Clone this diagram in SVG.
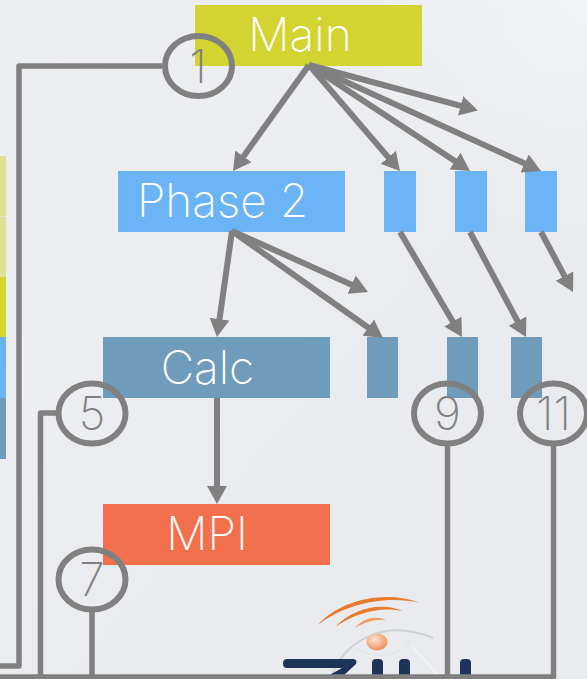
<svg xmlns="http://www.w3.org/2000/svg" width="587" height="679" viewBox="0 0 587 679">
<style>
.lbl{font-family:Inter,Roboto,"Liberation Sans",sans-serif;font-weight:200;font-size:46px;fill:#fff;text-anchor:middle}
.num{font-family:Inter,Roboto,"Liberation Sans",sans-serif;font-weight:200;font-size:46px;fill:#808080;text-anchor:middle}
.circ{fill:none;stroke:#808080;stroke-width:6}
.conn{fill:none;stroke:#808080;stroke-width:5.500;stroke-linejoin:round}
.arr{fill:none;stroke:#808080;stroke-width:6;marker-end:url(#head)}
.y{fill:#d3d431}.b{fill:#6bb4f5}.s{fill:#6f9cba}.o{fill:#f2704d}
.navy{fill:#1f3358}
</style>
<defs>
<linearGradient id="bg" x1="0" y1="0" x2="1" y2="1">
<stop offset="0" stop-color="#ebedf0"/><stop offset="0.3" stop-color="#edeef1"/><stop offset="0.6" stop-color="#e9ebee"/><stop offset="1" stop-color="#e9ebee"/>
</linearGradient>
<radialGradient id="tr" cx="1" cy="0" r="1">
<stop offset="0" stop-color="#f4f5f6" stop-opacity="0.8"/><stop offset="1" stop-color="#f4f5f6" stop-opacity="0"/>
</radialGradient>
<radialGradient id="ball" cx="0.4" cy="0.35" r="0.7">
<stop offset="0" stop-color="#fbe3d3"/><stop offset="1" stop-color="#ee8a50"/>
</radialGradient>
<marker id="head" markerUnits="userSpaceOnUse" markerWidth="20" markerHeight="21" refX="8" refY="10.500" orient="auto">
<path d="M0 0.500L18 10.500L0 20.500Z" fill="#808080"/>
</marker>
</defs>
<rect width="587" height="679" fill="url(#bg)"/>
<rect x="347" y="0" width="240" height="240" fill="url(#tr)"/>
<g id="logo">
<path d="M318 625C338 601 385 589 420 603C385 595 345 604 318 625Z" fill="#ea7a2c"/>
<path d="M335 627C352 609 380 601 403 611C380 606 355 613 335 627Z" fill="#ea7a2c"/>
<path d="M355 628C362 619 375 615 386 620C375 619 365 622 355 628Z" fill="#ee9a60"/>
<path d="M331 677C345 640 385 618 433 638" fill="none" stroke="#cfd1d1" stroke-width="2"/>
<path d="M350 640C355 655 395 665 410 640" fill="none" stroke="#e0e2e3" stroke-width="1"/>
<path d="M412 646L437 674" fill="none" stroke="#f2f3f5" stroke-width="2.500"/>
<ellipse cx="377" cy="642" rx="10.500" ry="8.500" fill="url(#ball)"/>
<path class="navy" d="M287 659H352Q358 659 356 664L342 677H326L342 668H287Q283 668 283 663.500Q283 659 287 659Z"/>
<rect class="navy" x="372" y="659" width="11" height="20" rx="4"/>
<rect class="navy" x="399" y="659" width="11" height="20" rx="4"/>
<rect class="navy" x="460" y="659" width="11" height="20" rx="4"/>
</g>
<g id="strip">
<rect x="0" y="156" width="6" height="60.500" fill="#dfe094"/>
<rect x="0" y="217" width="6" height="60" fill="#dfe094"/>
<rect x="0" y="277" width="6" height="60" class="y"/>
<rect x="0" y="337" width="6" height="61" class="b"/>
<rect x="0" y="398" width="6" height="61" class="s"/>
</g>
<g id="node-main"><rect x="195" y="5" width="227" height="61" class="y"/><text class="lbl" x="300" y="51">Main</text></g>
<g id="node-phase2"><rect x="118" y="171" width="227" height="61" class="b"/><text class="lbl" x="222.500" y="217">Phase 2</text></g>
<g id="node-p1"><rect x="384" y="171" width="32" height="61" class="b"/></g>
<g id="node-p2"><rect x="455" y="171" width="32" height="61" class="b"/></g>
<g id="node-p3"><rect x="525" y="171" width="32" height="61" class="b"/></g>
<g id="node-calc"><rect x="103" y="337" width="227" height="61" class="s"/><text class="lbl" x="207.500" y="384">Calc</text></g>
<g id="node-c1"><rect x="367" y="337" width="31" height="61" class="s"/></g>
<g id="node-c2"><rect x="447" y="337" width="31" height="61" class="s"/></g>
<g id="node-c3"><rect x="511" y="337" width="31" height="61" class="s"/></g>
<g id="node-mpi"><rect x="103" y="504" width="227" height="61" class="o"/><text class="lbl" x="207" y="550">MPI</text></g>
<g id="connectors">
<path class="conn" d="M162 66H19V666H0"/>
<path class="conn" d="M57 413H40.500V677"/>
<path class="conn" d="M92 612V677"/>
<path class="conn" d="M447.500 446V677"/>
<path class="conn" d="M553.500 446V677H0"/>
<path class="arr" d="M309 65L238.800 162.900"/>
<path class="arr" d="M309 65L393.500 163.400"/>
<path class="arr" d="M309 65L461.700 165.500"/>
<path class="arr" d="M309 65L531.900 166.800"/>
<path class="arr" d="M309 65L468.300 107.900"/>
<path class="arr" d="M232 231L218.400 327.100"/>
<path class="arr" d="M232 231L358.900 287.900"/>
<path class="arr" d="M232 231L374.800 332.200"/>
<path class="arr" d="M400 232L456.900 328.400"/>
<path class="arr" d="M470 232L521.300 328.200"/>
<path class="arr" d="M541 232L568.300 283.200"/>
<path class="arr" d="M217 398V494"/>
</g>
<g id="badge-1"><ellipse class="circ" cx="198.500" cy="66" rx="33.500" ry="30"/><text class="num" x="198" y="83">1</text></g>
<g id="badge-5"><ellipse class="circ" cx="92" cy="413.500" rx="33.500" ry="30"/><text class="num" x="92" y="430">5</text></g>
<g id="badge-7"><ellipse class="circ" cx="92" cy="579.500" rx="33.500" ry="30"/><text class="num" x="92" y="596">7</text></g>
<g id="badge-9"><ellipse class="circ" cx="447.500" cy="413.500" rx="33.500" ry="30"/><text class="num" x="447.500" y="430">9</text></g>
<g id="badge-11"><ellipse class="circ" cx="553.500" cy="413.500" rx="33.500" ry="30"/><text class="num" x="553.500" y="430">11</text></g>
</svg>
